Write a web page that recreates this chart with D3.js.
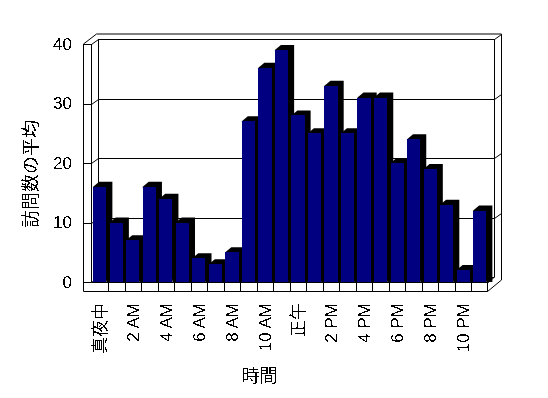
<!DOCTYPE html>
<html>
<head>
<meta charset="utf-8">
<script src="https://cdn.jsdelivr.net/npm/d3@7"></script>
<style>
  html, body { margin: 0; padding: 0; background: #fff; }
  svg { display: block; }
  text { font-family: "Liberation Sans", "Noto Sans CJK JP", sans-serif; fill: #000; }
  .frame line, .frame path { stroke: #000; stroke-width: 1; fill: none; }
</style>
</head>
<body>
<svg id="chart" width="548" height="398"></svg>
<script>
  const hours = ['0', '1', '2', '3', '4', '5', '6', '7', '8', '9', '10', '11',
    '12', '13', '14', '15', '16', '17', '18', '19', '20', '21', '22', '23'];
  const visits = [16, 10, 7, 16, 14, 10, 4, 3, 5, 27, 36, 39,
    28, 25, 33, 25, 31, 31, 20, 24, 19, 13, 2, 12];
  const hourLabels = ['真夜中', '', '2 AM', '', '4 AM', '', '6 AM', '', '8 AM', '', '10 AM', '',
    '正午', '', '2 PM', '', '4 PM', '', '6 PM', '', '8 PM', '', '10 PM', ''];
  const valueTicks = [0, 10, 20, 30, 40];
  const yTitle = '訪問数の平均';
  const xTitle = '時間';

  const svg = d3.select('#chart');

  // hard edge on the glyphs, the original has no antialiasing
  svg.append('defs').append('filter')
    .attr('id', 'hard')
    .attr('filterUnits', 'userSpaceOnUse')
    .attr('x', 0).attr('y', 0).attr('width', 548).attr('height', 398)
    .append('feComponentTransfer')
    .append('feFuncA')
    .attr('type', 'discrete')
    .attr('tableValues', '0 0 1 1');

  const x = d3.scaleBand().domain(hours).range([91.5, 488]).paddingInner(0.2).paddingOuter(0.1);
  const y = d3.scaleLinear().domain([0, 40]).range([282, 44]);

  const px = v => Math.round(v) + 0.5;
  const step = x.step();
  const left = 83.5, wallX = 91.5, backX = 98.5, backR = 494.5, outR = 501.5;
  const floorY = y(0), frontY = 291.5, wallDy = 5;

  const frame = svg.append('g').attr('class', 'frame');

  const seg = (x1, y1, x2, y2, g) => (g || frame).append('line')
    .attr('x1', x1).attr('y1', y1).attr('x2', x2).attr('y2', y2);

  // walls
  seg(left, y(40), left, frontY);
  seg(wallX, y(40), wallX, floorY);
  seg(backX, y(40) - wallDy, backX, floorY - wallDy);
  seg(backR, y(40) - wallDy, backR, floorY - wallDy);
  seg(outR, y(40) - 10, outR, 280);
  seg(left, y(40), 96.5, y(40) - 10);
  seg(96.5, y(40) - 10, outR, y(40) - 10);

  // gridlines, wrapping round both walls
  valueTicks.forEach(v => {
    const gy = px(y(v));
    seg(left, gy, wallX, gy);
    seg(wallX, gy, backX, gy - wallDy);
    seg(backX, gy - wallDy, backR, gy - wallDy);
    if (v > 0) seg(backR, gy - wallDy, outR, gy - 10);
  });

  // bars
  const depth = 6;
  const bars = svg.append('g');
  bars.selectAll('path')
    .data(visits)
    .join('path')
    .attr('fill', '#000')
    .attr('d', (d, i) => {
      const x0 = x(hours[i]), x1 = x0 + x.bandwidth(), t = y(d);
      return `M${x0},${t}L${x0 + depth},${t - wallDy}L${x1 + depth},${t - wallDy}L${x1 + depth},${floorY}L${x1},${floorY}Z`;
    });
  bars.selectAll('rect')
    .data(visits)
    .join('rect')
    .attr('fill', '#000080')
    .attr('shape-rendering', 'crispEdges')
    .attr('x', (d, i) => x(hours[i]))
    .attr('y', d => y(d))
    .attr('width', x.bandwidth())
    .attr('height', d => floorY - y(d));

  // floor band with tick cells
  const band = svg.append('g').attr('class', 'frame');
  seg(wallX, px(floorY), 488.5, px(floorY), band);
  seg(left, frontY, 487.5, frontY, band);
  seg(487.5, frontY, outR, 280, band);
  seg(488.5, px(floorY), backR, floorY - wallDy, band);
  d3.range(1, hours.length + 1).forEach(i => {
    const tx = px(wallX + step * i) - (i === hours.length ? 1 : 0);
    seg(tx, px(floorY), tx, frontY, band);
  });

  const labels = svg.append('g').attr('filter', 'url(#hard)');

  const yAxis = labels.append('g')
    .attr('transform', 'translate(72,0)')
    .call(d3.axisLeft(y).tickValues(valueTicks).tickSize(0).tickPadding(0));
  yAxis.select('.domain').remove();
  yAxis.selectAll('text').attr('font-size', 17).style('font-family', null);
  yAxis.attr('font-family', null);

  const xAxis = labels.append('g')
    .attr('transform', 'translate(0,303)')
    .call(d3.axisBottom(x).tickFormat((d, i) => hourLabels[i]).tickSize(0).tickPadding(0));
  xAxis.select('.domain').remove();
  xAxis.attr('font-family', null);
  xAxis.selectAll('text')
    .attr('font-size', 17)
    .attr('text-anchor', 'end')
    .attr('transform', 'rotate(-90)')
    .attr('x', 0)
    .attr('y', 0)
    .attr('dy', '0.36em');

  labels.append('text')
    .attr('transform', 'translate(31,174) rotate(-90)')
    .attr('text-anchor', 'middle')
    .attr('dy', '0.36em')
    .attr('font-size', 18)
    .text(yTitle);

  labels.append('text')
    .attr('x', 259.5)
    .attr('y', 382)
    .attr('text-anchor', 'middle')
    .attr('font-size', 18)
    .text(xTitle);
</script>
</body>
</html>
